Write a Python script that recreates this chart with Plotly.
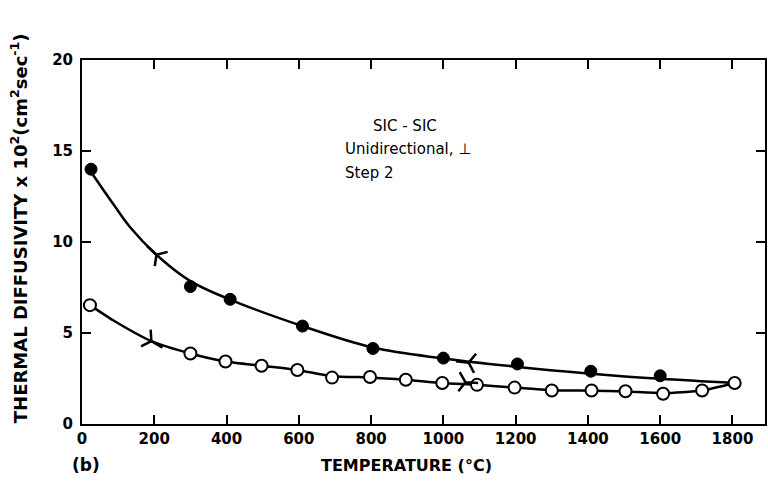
import plotly.graph_objects as go

cool_x = [25, 300, 410, 610, 805, 1000, 1205, 1408, 1600]
cool_y = [14.0, 7.55, 6.85, 5.38, 4.15, 3.62, 3.3, 2.9, 2.65]
heat_x = [22, 300, 397, 497, 596, 692, 797, 896, 997, 1093, 1197, 1300, 1410, 1504, 1608, 1716, 1806]
heat_y = [6.53, 3.87, 3.43, 3.2, 2.97, 2.55, 2.58, 2.43, 2.25, 2.15, 2.0, 1.84, 1.84, 1.8, 1.66, 1.84, 2.25]

# Hand-drawn fitted curves
cool_curve_x = [25, 86, 132, 206, 300, 408, 610, 805, 1000, 1200, 1400, 1600, 1806]
cool_curve_y = [13.85, 12.1, 10.84, 9.3, 7.85, 6.85, 5.38, 4.2, 3.6, 3.15, 2.78, 2.48, 2.25]
heat_curve_x = [22, 86, 192, 300, 397, 497, 596, 692, 797, 896, 997, 1093, 1197, 1300, 1410, 1504, 1608, 1716, 1806]
heat_curve_y = [6.53, 5.7, 4.55, 3.87, 3.43, 3.2, 2.97, 2.62, 2.56, 2.43, 2.25, 2.15, 2.0, 1.86, 1.83, 1.79, 1.7, 1.84, 2.25]

# direction arrows on the curves
arrow_x = [206, 1070, 192, 1061]
arrow_y = [9.3, 3.37, 4.55, 2.3]
arrow_sym = ["y-left", "y-left", "y-right", "y-right"]
arrow_ang = [42, 6, 30, 4]

x_ticks = [0, 200, 400, 600, 800, 1000, 1200, 1400, 1600, 1800]
y_ticks = [0, 5, 10, 15, 20]

x_title = "TEMPERATURE (°C)"
y_title = "THERMAL DIFFUSIVITY x 10<sup>2</sup>(cm<sup>2</sup>sec<sup>-1</sup>)"

fig = go.Figure()
fig.add_trace(go.Scatter(x=cool_curve_x, y=cool_curve_y, mode="lines",
                         line=dict(color="black", width=2.5, shape="spline", smoothing=1.0),
                         hoverinfo="skip"))
fig.add_trace(go.Scatter(x=heat_curve_x, y=heat_curve_y, mode="lines",
                         line=dict(color="black", width=2.5, shape="spline", smoothing=0.6),
                         hoverinfo="skip"))
fig.add_trace(go.Scatter(x=cool_x, y=cool_y, mode="markers",
                         marker=dict(symbol="circle", size=12, color="black",
                                     line=dict(color="black", width=1))))
fig.add_trace(go.Scatter(x=heat_x, y=heat_y, mode="markers",
                         marker=dict(symbol="circle", size=12, color="white",
                                     line=dict(color="black", width=2))))
fig.add_trace(go.Scatter(x=arrow_x, y=arrow_y, mode="markers",
                         marker=dict(symbol=arrow_sym, size=16, angle=arrow_ang,
                                     color="black", line=dict(color="black", width=2.5))))

font_main = "DejaVu Sans"

fig.update_layout(
    width=768, height=482,
    margin=dict(l=82, r=1, t=60, b=58),
    paper_bgcolor="white", plot_bgcolor="white",
    showlegend=False,
    font=dict(family=font_main, color="black"),
    xaxis=dict(range=[0, 1890], tickvals=x_ticks, ticktext=[f"<b>{v}</b>" for v in x_ticks],
               ticks="inside", ticklen=9, tickwidth=1.5, tickcolor="black",
               showline=True, linecolor="black", linewidth=2, mirror="ticks",
               showgrid=False, zeroline=False,
               tickfont=dict(size=15, family=font_main)),
    yaxis=dict(range=[0, 20], tickvals=y_ticks, ticktext=[f"<b>{v}</b>" for v in y_ticks],
               ticks="inside", ticklen=9, tickwidth=1.5, tickcolor="black",
               showline=True, linecolor="black", linewidth=2, mirror="ticks",
               showgrid=False, zeroline=False, ticklabelstandoff=4,
               tickfont=dict(size=15, family=font_main)),
    annotations=[
        dict(text="SIC - SIC", x=406, y=126, showarrow=False, font=dict(size=15)),
        dict(text="Unidirectional, ⊥", x=344, y=149, showarrow=False, xanchor="left",
             font=dict(size=15)),
        dict(text="Step 2", x=344, y=173, showarrow=False, xanchor="left",
             font=dict(size=15)),
        dict(text="<b>(b)</b>", x=86, y=465, showarrow=False, xanchor="center", font=dict(size=17)),
        dict(text=f"<b>{x_title}</b>", x=407, y=465, showarrow=False, xanchor="center",
             font=dict(size=16)),
        dict(text=f"<b>{y_title}</b>", x=19, y=228, showarrow=False, xanchor="center",
             textangle=-90, font=dict(size=18)),
    ],
)

# convert pixel positions of annotations into paper coords
W, H = 768, 482
L, R, T, B = 82, 1, 60, 58
pw, ph = W - L - R, H - T - B
new_ann = []
for a in fig.layout.annotations:
    px, py = a.x, a.y
    a.xref = "paper"
    a.yref = "paper"
    a.x = (px - L) / pw
    a.y = (H - B - py) / ph
    a.yanchor = "middle"
    new_ann.append(a)
fig.layout.annotations = new_ann

fig.write_html("out.html")
